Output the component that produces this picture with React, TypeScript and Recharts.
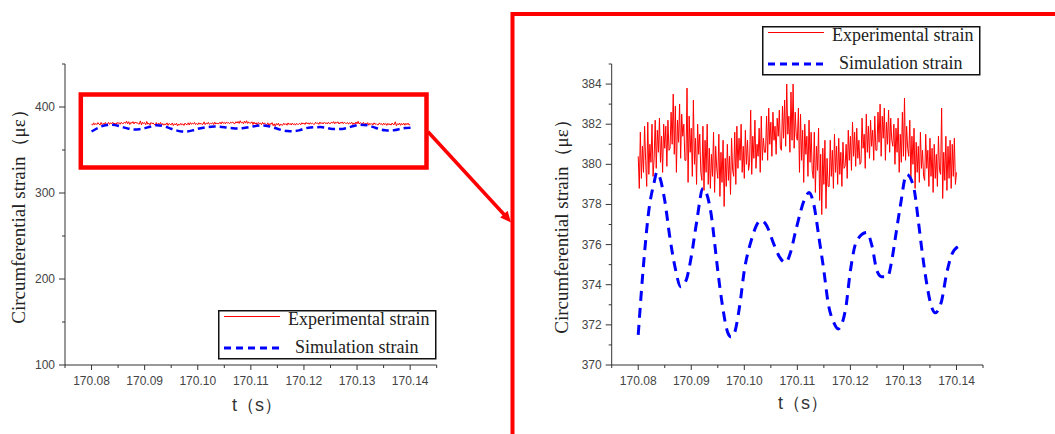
import React from "react";
import { LineChart, Line, XAxis, YAxis } from "recharts";

// experimental strain, sampled every 0.2 ms from 170.080 s
const EXP_START = 170.08;
const EXP_STEP = 0.0002;
const expValues = [
  380.4, 378.8, 381.6, 379.3, 380.9, 379.6, 381.9, 380.2, 378.9, 382.1, 379.5, 381.0, 380.1, 382.0, 379.4,
  380.3, 382.2, 379.8, 381.7, 380.6, 382.3, 380.1, 381.4, 379.6, 382.0, 380.8, 381.9, 379.9, 382.2, 380.7,
  380.8, 382.6, 381.0, 383.5, 380.5, 382.9, 379.6, 382.2, 381.1, 383.0, 380.3, 382.5, 381.4, 382.0, 380.2,
  380.2, 383.8, 379.1, 382.4, 380.6, 381.8, 379.4, 383.2, 380.0, 381.3, 379.0, 382.0, 380.5, 381.5, 379.6,
  379.2, 381.9, 378.7, 381.2, 379.6, 382.0, 379.0, 380.8, 378.8, 380.5, 379.4, 381.6, 378.6, 380.9, 379.8,
  379.3, 381.5, 378.4, 380.6, 379.1, 381.2, 377.9, 380.3, 378.9, 381.0, 379.2, 380.4, 378.5, 381.3, 379.7,
  379.4, 381.6, 379.0, 381.9, 379.8, 381.3, 380.2, 382.0, 379.6, 380.9, 379.3, 381.7, 380.0, 381.2, 379.7,
  380.1, 382.7, 379.5, 381.4, 380.3, 382.2, 379.8, 381.0, 380.4, 381.8, 379.6, 382.4, 380.2, 381.3, 380.6,
  380.6, 382.4, 380.2, 382.8, 381.0, 382.1, 380.4, 382.6, 381.2, 381.9, 380.5, 382.3, 381.4, 382.7, 380.8,
  380.7, 382.9, 381.3, 383.2, 380.9, 384.0, 381.5, 382.4, 380.6, 383.6, 381.2, 384.0, 380.8, 382.6, 381.4,
  381.2, 382.8, 379.6, 382.5, 380.2, 381.7, 379.1, 382.0, 380.5, 381.4, 379.4, 382.2, 380.1, 381.6, 379.7,
  379.3, 381.6, 378.6, 380.9, 379.7, 381.8, 378.2, 380.5, 377.5, 380.8, 379.0, 381.2, 377.8, 380.3, 378.9,
  378.9, 381.2, 379.4, 380.7, 378.8, 381.5, 379.6, 380.9, 379.0, 381.3, 379.5, 380.6, 378.9, 381.1, 379.8,
  379.9, 381.0, 379.3, 381.7, 380.2, 381.4, 379.7, 382.1, 380.4, 381.6, 379.9, 381.8, 380.3, 381.2, 380.0,
  380.1, 382.3, 380.8, 381.5, 379.8, 382.5, 380.6, 381.9, 380.3, 382.2, 380.9, 381.7, 380.2, 382.4, 380.7,
  380.7, 382.6, 381.1, 383.0, 380.4, 382.4, 381.3, 382.8, 380.2, 382.1, 381.0, 382.7, 380.6, 382.3, 381.2,
  380.9, 382.0, 380.0, 381.8, 380.6, 382.3, 379.6, 381.5, 380.1, 382.6, 380.4, 383.3, 380.2, 381.9, 380.8,
  380.4, 382.2, 379.3, 381.4, 380.0, 381.8, 378.8, 381.1, 379.6, 380.9, 379.1, 381.6, 379.8, 380.7, 379.4,
  379.2, 381.5, 379.8, 380.7, 378.9, 381.3, 379.4, 380.8, 378.6, 381.0, 379.3, 380.5, 378.9, 381.4, 379.7,
  379.5, 382.8, 378.3, 380.6, 379.2, 381.4, 378.7, 380.9, 379.3, 381.2, 378.8, 381.0, 379.4, 381.3, 379.0,
  379.6,
];

// simulation strain
const simTimes = [
  170.08, 170.081, 170.082, 170.083, 170.0835, 170.084, 170.085, 170.086,
  170.087, 170.088, 170.089, 170.09, 170.091, 170.0922, 170.0937, 170.0944,
  170.095, 170.0958, 170.0969, 170.0975, 170.098, 170.0991, 170.1, 170.1013,
  170.1031, 170.1041, 170.1056, 170.1066, 170.1078, 170.1087, 170.1097,
  170.1116, 170.1122, 170.1131, 170.1141, 170.115, 170.1158, 170.1169,
  170.1177, 170.1191, 170.12, 170.1212, 170.1231, 170.1241, 170.125,
  170.1259, 170.127, 170.1278, 170.1284, 170.1294, 170.1306, 170.1319,
  170.1328, 170.1334, 170.1343, 170.1353, 170.136, 170.1372, 170.1381,
  170.1391, 170.1403,
];
const simValues = [
  371.5, 375.0, 377.7, 379.1, 379.6, 379.4, 378.2, 376.3,
  374.8, 373.9, 374.2, 375.4, 377.1, 378.8, 377.6, 376.1,
  374.7, 373.1, 371.6, 371.4, 371.5, 372.9, 374.7, 376.2,
  377.2, 377.0, 376.0, 375.4, 375.1, 375.6, 376.7,
  378.4, 378.6, 378.0, 376.3, 374.7, 373.1, 372.1,
  371.8, 372.8, 374.7, 376.2, 376.6, 375.9, 374.7,
  374.4, 374.4, 375.2, 376.2, 377.9, 379.5, 378.9,
  377.2, 375.9, 374.2, 372.9, 372.6, 373.2, 374.5,
  375.5, 375.9,
];

const xMajor = [170.08, 170.09, 170.1, 170.11, 170.12, 170.13, 170.14];
const xAll = [
  170.075, 170.08, 170.085, 170.09, 170.095, 170.1, 170.105, 170.11,
  170.115, 170.12, 170.125, 170.13, 170.135, 170.14, 170.145,
];
const yMajorFull = [100, 200, 300, 400];
const yAllFull = [100, 150, 200, 250, 300, 350, 400, 450];
const yMajorZoom = [370, 372, 374, 376, 378, 380, 382, 384];
const yAllZoom = [370, 371, 372, 373, 374, 375, 376, 377, 378, 379, 380, 381, 382, 383, 384, 385];

const legendNames = ["Experimental strain", "Simulation strain"];
const yTitle = "Circumferential strain（με）";
const xTitle = "t（s）";

const expData = expValues.map((v, i) => ({
  t: Number((EXP_START + i * EXP_STEP).toFixed(4)),
  v,
}));
const simData = simTimes.map((t, i) => ({ t, v: simValues[i] }));

const RED = "#ff0000";
const BLUE = "#0000ff";
const AXIS = "#333";
const SANS = "'Liberation Sans', Arial, sans-serif";
const SERIF = "'Liberation Serif', 'Times New Roman', serif";

const isIn = (list: number[], v: number) => list.some((m) => Math.abs(m - v) < 1e-7);

const makeXTick = (majors: number[]) => (props: any) => {
  const { x, y, payload } = props;
  const axisY = y - 10;
  const major = isIn(majors, payload.value);
  return (
    <g>
      <line x1={x} x2={x} y1={axisY} y2={axisY + (major ? 5 : 3)} stroke={AXIS} />
      {major && (
        <text x={x} y={axisY + 20} textAnchor="middle" fontSize={12} fill="#444" fontFamily={SANS}>
          {payload.value.toFixed(2)}
        </text>
      )}
    </g>
  );
};

const makeYTick = (majors: number[]) => (props: any) => {
  const { x, y, payload } = props;
  const axisX = x + 10;
  const major = isIn(majors, payload.value);
  return (
    <g>
      <line x1={axisX - (major ? 6 : 3)} x2={axisX} y1={y} y2={y} stroke={AXIS} />
      {major && (
        <text x={axisX - 10} y={y + 4} textAnchor="end" fontSize={12} fill="#444" fontFamily={SANS}>
          {payload.value}
        </text>
      )}
    </g>
  );
};

const LegendBox = ({ x, y }: { x: number; y: number }) => (
  <g transform={`translate(${x},${y})`}>
    <rect x={0.75} y={0.75} width={217} height={48} fill="#fff" stroke="#111" strokeWidth={1.5} />
    <line x1={6} x2={62} y1={6.5} y2={6.5} stroke={RED} strokeWidth={1.2} />
    <text x={70} y={15} fontSize={18} fill="#222" fontFamily={SERIF}>
      {legendNames[0]}
    </text>
    <line x1={6} x2={62} y1={38} y2={38} stroke={BLUE} strokeWidth={3} strokeDasharray="7 5" />
    <text x={77} y={43} fontSize={18} fill="#222" fontFamily={SERIF}>
      {legendNames[1]}
    </text>
  </g>
);

type PanelProps = {
  left: number;
  width: number;
  marginLeft: number;
  marginRight: number;
  yDomain: [number, number];
  yTicks: number[];
  yMajors: number[];
  simWidth: number;
  simDash: string;
};

const Panel = ({ left, width, marginLeft, marginRight, yDomain, yTicks, yMajors, simWidth, simDash }: PanelProps) => (
  <div style={{ position: "absolute", left, top: 0 }}>
    <LineChart
      width={width}
      height={434}
      margin={{ top: 64, right: marginRight, bottom: 39, left: marginLeft }}
    >
      <XAxis
        dataKey="t"
        type="number"
        domain={[170.075, 170.145]}
        ticks={xAll}
        interval={0}
        allowDataOverflow
        height={30}
        tickSize={6}
        tickMargin={4}
        tickLine={false}
        axisLine={{ stroke: AXIS }}
        tick={makeXTick(xMajor)}
      />
      <YAxis
        type="number"
        domain={yDomain}
        ticks={yTicks}
        interval={0}
        allowDataOverflow
        width={45}
        tickSize={6}
        tickMargin={4}
        tickLine={false}
        axisLine={{ stroke: AXIS }}
        tick={makeYTick(yMajors)}
      />
      <Line
        data={expData}
        dataKey="v"
        type="linear"
        stroke={RED}
        strokeWidth={1}
        dot={false}
        isAnimationActive={false}
        name={legendNames[0]}
      />
      <Line
        data={simData}
        dataKey="v"
        type="monotone"
        stroke={BLUE}
        strokeWidth={simWidth}
        strokeDasharray={simDash}
        dot={false}
        isAnimationActive={false}
        name={legendNames[1]}
      />
    </LineChart>
  </div>
);

export default function App() {
  return (
    <div
      style={{
        position: "absolute",
        left: 0,
        top: 0,
        width: 1055,
        height: 434,
        background: "#fff",
        overflow: "hidden",
      }}
    >
      <Panel
        left={0}
        width={470}
        marginLeft={20}
        marginRight={33.3}
        yDomain={[100, 450]}
        yTicks={yAllFull}
        yMajors={yMajorFull}
        simWidth={2.5}
        simDash="7 4"
      />
      <Panel
        left={540}
        width={480}
        marginLeft={26.7}
        marginRight={37}
        yDomain={[370, 385]}
        yTicks={yAllZoom}
        yMajors={yMajorZoom}
        simWidth={3}
        simDash="10 7"
      />
      <svg
        width={1055}
        height={434}
        style={{ position: "absolute", left: 0, top: 0, pointerEvents: "none" }}
      >
        <text
          transform="translate(25,212) rotate(-90)"
          textAnchor="middle"
          fontSize={19}
          fill="#222"
          fontFamily={SERIF}
        >
          {yTitle}
        </text>
        <text
          transform="translate(568,222) rotate(-90)"
          textAnchor="middle"
          fontSize={19}
          fill="#222"
          fontFamily={SERIF}
        >
          {yTitle}
        </text>
        <text x={257} y={411} textAnchor="middle" fontSize={18} fill="#333" fontFamily={SANS}>
          {xTitle}
        </text>
        <text x={803} y={409} textAnchor="middle" fontSize={18} fill="#333" fontFamily={SANS}>
          {xTitle}
        </text>
        <LegendBox x={218} y={310} />
        <LegendBox x={762} y={26} />
        <rect x={80.8} y={94.5} width={345.7} height={73} fill="none" stroke={RED} strokeWidth={4.5} />
        <polyline points="512.5,440 512.5,14 1060,14" fill="none" stroke={RED} strokeWidth={4} />
        <line x1={428} y1={131.7} x2={505} y2={215.5} stroke={RED} strokeWidth={3.5} />
        <polygon points="511,222.5 500.2,217.6 507.6,210.8" fill={RED} />
      </svg>
    </div>
  );
}
